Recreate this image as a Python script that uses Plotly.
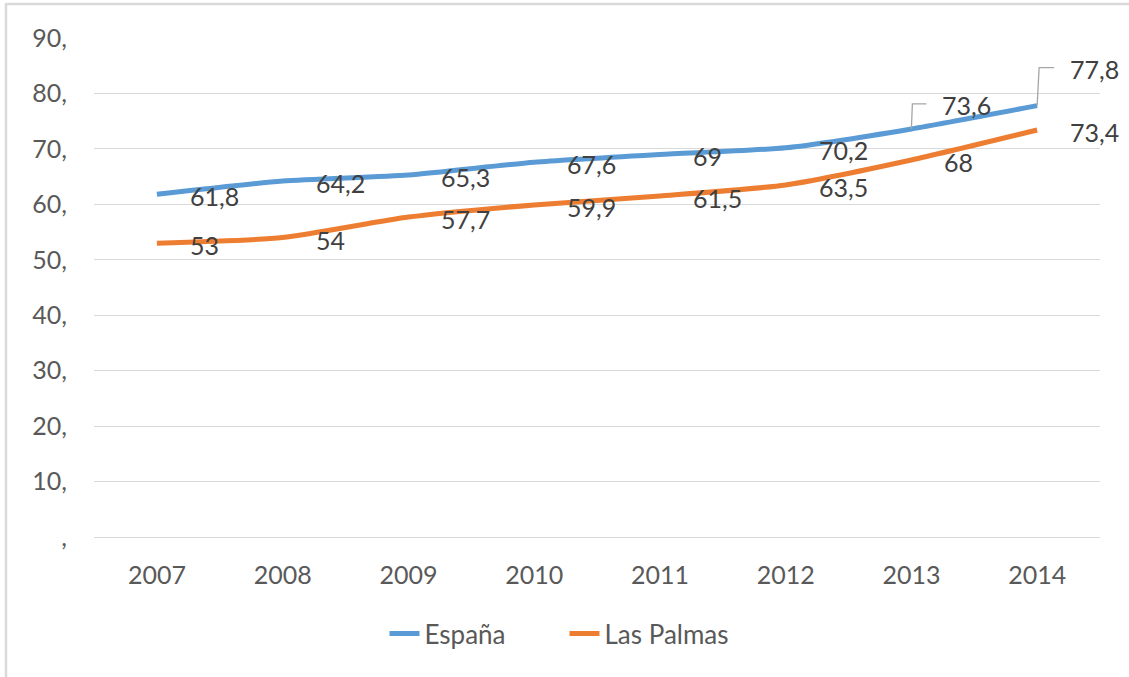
import plotly.graph_objects as go

years = [2007, 2008, 2009, 2010, 2011, 2012, 2013, 2014]
espana = [61.8, 64.2, 65.3, 67.6, 69.0, 70.2, 73.6, 77.8]
las_palmas = [53.0, 54.0, 57.7, 59.9, 61.5, 63.5, 68.0, 73.4]
series_names = ["España", "Las Palmas"]
y_ticks = [0, 10, 20, 30, 40, 50, 60, 70, 80, 90]

COLORS = ["#5B9BD5", "#ED7D31"]
FONT = "Lato"
TICK_COLOR = "#595959"
LABEL_COLOR = "#404040"
GRID = "#D9D9D9"
FS = 25


def fmt(v):
    return f"{v:g}".replace(".", ",")


fig = go.Figure()
for name, vals, col in zip(series_names, [espana, las_palmas], COLORS):
    fig.add_trace(go.Scatter(
        x=years, y=vals, name=name, mode="lines",
        line=dict(color=col, width=5, shape="spline", smoothing=0.6),
        hoverinfo="skip",
    ))

# default label placement: right of the point
default_shift = (31, -2)
# custom placements (with leader lines) for the last two España labels
custom = {
    (0, 2013): dict(shift=(29, 24), leader=[(0, 0), (1, 25), (15, 25)]),
    (0, 2014): dict(shift=(31, 37), leader=[(0, 0), (2, 38), (17, 38)]),
}

annotations = []
shapes = []
for si, vals in enumerate([espana, las_palmas]):
    for yr, v in zip(years, vals):
        c = custom.get((si, yr))
        xs, ys = c["shift"] if c else default_shift
        annotations.append(dict(
            x=yr, y=v, xref="x", yref="y", text=fmt(v), showarrow=False,
            xanchor="left", yanchor="middle", xshift=xs, yshift=ys,
            font=dict(family=FONT, size=FS, color=LABEL_COLOR),
        ))
        if c:
            pts = c["leader"]
            path = "M " + " L ".join(f"{px},{py}" for px, py in pts)
            shapes.append(dict(
                type="path", xref="x", yref="y",
                xsizemode="pixel", ysizemode="pixel",
                xanchor=yr, yanchor=v, path=path,
                line=dict(color="#A6A6A6", width=1.3),
            ))

# outer chart frame (top and left edges visible)
shapes.append(dict(type="line", xref="paper", yref="paper",
                   x0=-0.0875, x1=1.03, y0=1.068, y1=1.068,
                   line=dict(color=GRID, width=2.5)))
shapes.append(dict(type="line", xref="paper", yref="paper",
                   x0=-0.0875, x1=-0.0875, y0=1.07, y1=-0.29,
                   line=dict(color=GRID, width=2.5)))

fig.update_layout(
    width=1129, height=677,
    margin=dict(l=94, r=29, t=38, b=140),
    paper_bgcolor="white", plot_bgcolor="white",
    font=dict(family=FONT, size=FS, color=TICK_COLOR),
    xaxis=dict(
        range=[2006.5, 2014.5], tickvals=years, ticktext=[str(y) for y in years],
        showgrid=False, zeroline=False, showline=False,
        ticks="", ticklabelstandoff=21,
        tickfont=dict(family=FONT, size=FS, color=TICK_COLOR),
    ),
    yaxis=dict(
        range=[0, 90], tickvals=y_ticks,
        ticktext=[(str(t) if t else "") + "," for t in y_ticks],
        showgrid=True, gridcolor=GRID, gridwidth=1.3,
        zeroline=True, zerolinecolor=GRID, zerolinewidth=1.3,
        showline=False, ticks="", ticklabelstandoff=26,
        tickfont=dict(family=FONT, size=FS, color=TICK_COLOR),
    ),
    legend=dict(
        orientation="h", xref="container", yref="container",
        x=0.5, xanchor="center", y=0.064, yanchor="middle",
        font=dict(family=FONT, size=26, color=TICK_COLOR),
        bgcolor="rgba(0,0,0,0)", entrywidth=135, entrywidthmode="pixels",
    ),
    annotations=annotations,
    shapes=shapes,
    showlegend=True,
)

fig.write_html(
    "out.html",
    config={"displayModeBar": False},
    post_script="document.body.style.margin='0';document.body.style.overflow='hidden';",
)
